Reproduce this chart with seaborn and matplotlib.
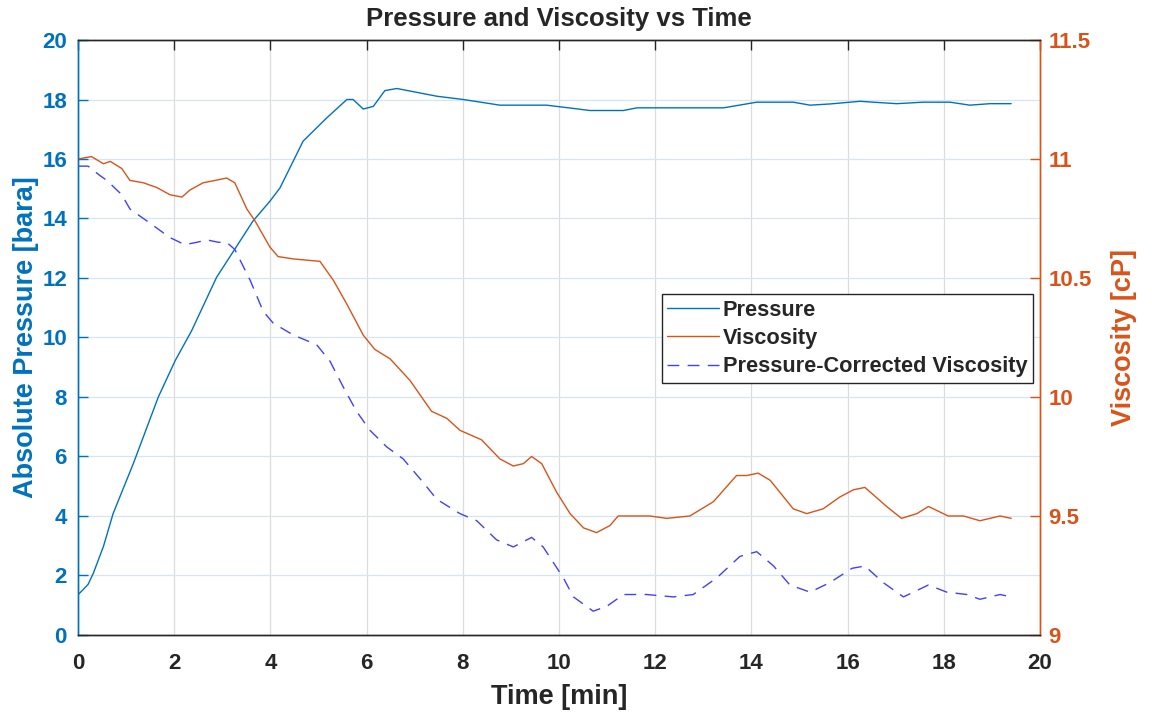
import numpy as np
import pandas as pd
import matplotlib
matplotlib.use("Agg")
import matplotlib.pyplot as plt
from matplotlib.ticker import FuncFormatter
import seaborn as sns

# ---- data ----
p_time = [0.00, 0.21, 0.32, 0.53, 0.73, 1.15, 1.67, 2.02, 2.36, 2.88, 3.64, 3.99, 4.20,
          4.68, 5.17, 5.59, 5.72, 5.93, 6.14, 6.38, 6.63, 7.46, 8.01, 8.77, 9.74, 10.30,
          10.64, 11.34, 11.62, 13.42, 14.11, 14.87, 15.22, 15.63, 16.26, 16.53, 17.02,
          17.57, 18.13, 18.54, 18.96, 19.40]
pressure = [1.35, 1.70, 2.08, 2.98, 4.08, 5.76, 8.00, 9.22, 10.22, 12.02, 13.92, 14.58, 15.03,
            16.60, 17.38, 18.00, 18.00, 17.68, 17.77, 18.30, 18.37, 18.11, 18.00, 17.81, 17.81,
            17.70, 17.63, 17.63, 17.72, 17.72, 17.91, 17.91, 17.81, 17.85, 17.94, 17.91, 17.86,
            17.91, 17.91, 17.81, 17.86, 17.86]

v_time = [0.00, 0.28, 0.53, 0.67, 0.91, 1.08, 1.36, 1.64, 1.91, 2.16, 2.33, 2.60, 2.85,
          3.09, 3.26, 3.51, 3.68, 3.99, 4.16, 4.48, 5.03, 5.31, 5.59, 5.93, 6.17, 6.49,
          6.90, 7.35, 7.67, 7.94, 8.39, 8.77, 9.05, 9.26, 9.43, 9.64, 9.95, 10.23, 10.51,
          10.78, 11.06, 11.23, 11.48, 11.89, 12.24, 12.72, 13.21, 13.69, 13.90, 14.14,
          14.39, 14.87, 15.15, 15.49, 15.84, 16.12, 16.36, 16.81, 17.12, 17.44, 17.68,
          18.09, 18.41, 18.75, 19.17, 19.40]
viscosity = [11.00, 11.01, 10.98, 10.99, 10.96, 10.91, 10.90, 10.88, 10.85, 10.84, 10.87,
             10.90, 10.91, 10.92, 10.90, 10.79, 10.74, 10.63, 10.59, 10.58, 10.57, 10.49,
             10.39, 10.26, 10.20, 10.16, 10.07, 9.94, 9.91, 9.86, 9.82, 9.74, 9.71, 9.72,
             9.75, 9.72, 9.60, 9.51, 9.45, 9.43, 9.46, 9.50, 9.50, 9.50, 9.49, 9.50, 9.56,
             9.67, 9.67, 9.68, 9.65, 9.53, 9.51, 9.53, 9.58, 9.61, 9.62, 9.54, 9.49, 9.51,
             9.54, 9.50, 9.50, 9.48, 9.50, 9.49]

c_time = [0.00, 0.21, 0.46, 0.60, 0.91, 1.08, 1.50, 1.91, 2.22, 2.47, 2.68, 2.92, 3.09,
          3.26, 3.58, 3.85, 4.06, 4.48, 4.96, 5.24, 5.52, 5.79, 6.07, 6.42, 6.76, 7.18,
          7.46, 7.94, 8.29, 8.70, 9.05, 9.43, 9.67, 10.09, 10.30, 10.71, 10.99, 11.34,
          11.82, 12.38, 12.79, 13.28, 13.76, 14.11, 14.46, 14.80, 15.22, 15.63, 16.09,
          16.36, 16.74, 17.16, 17.68, 18.06, 18.48, 18.75, 19.17, 19.40]
corrected = [10.97, 10.97, 10.93, 10.91, 10.85, 10.79, 10.73, 10.67, 10.64, 10.65, 10.66,
             10.65, 10.65, 10.62, 10.49, 10.36, 10.31, 10.26, 10.22, 10.15, 10.04, 9.94,
             9.86, 9.79, 9.74, 9.64, 9.57, 9.51, 9.48, 9.40, 9.37, 9.41, 9.37, 9.24, 9.16,
             9.10, 9.12, 9.17, 9.17, 9.16, 9.17, 9.24, 9.33, 9.35, 9.29, 9.21, 9.18, 9.22,
             9.28, 9.29, 9.22, 9.16, 9.21, 9.18, 9.17, 9.15, 9.17, 9.16]

x_ticks = [0, 2, 4, 6, 8, 10, 12, 14, 16, 18, 20]
left_ticks = [0, 2, 4, 6, 8, 10, 12, 14, 16, 18, 20]
right_ticks = [9, 9.5, 10, 10.5, 11, 11.5]

# ---- style ----
sns.set_style("white")
plt.rcParams["font.family"] = ["Liberation Sans", "DejaVu Sans"]
plt.rcParams["font.weight"] = "bold"

BLUE = "#0072BD"
ORANGE = "#D95319"
DASH = "#4040ff"
DARK = "#262626"

fig = plt.figure(figsize=(11.52, 7.17), dpi=100)
ax = fig.add_axes([0.0677, 0.1144, 0.8351, 0.8298])
ax2 = ax.twinx()

df_p = pd.DataFrame({"t": p_time, "v": pressure})
df_v = pd.DataFrame({"t": v_time, "v": viscosity})
df_c = pd.DataFrame({"t": c_time, "v": corrected})

sns.lineplot(data=df_p, x="t", y="v", ax=ax, color=BLUE, lw=1.0, label="Pressure", legend=False)
sns.lineplot(data=df_v, x="t", y="v", ax=ax2, color=ORANGE, lw=1.0, label="Viscosity", legend=False)
sns.lineplot(data=df_c, x="t", y="v", ax=ax2, color=DASH, lw=1.0, ls=(0, (8.5, 6)),
             label="Pressure-Corrected Viscosity", legend=False)

ax.set_xlim(0, 20)
ax.set_ylim(0, 20)
ax2.set_ylim(9, 11.5)
ax.set_xticks(x_ticks)
ax.set_yticks(left_ticks)
ax2.set_yticks(right_ticks)
ax2.yaxis.set_major_formatter(FuncFormatter(lambda v, p: f"{v:g}"))

# grid
ax.set_axisbelow(True)
for xt in x_ticks[1:-1]:
    ax.axvline(xt, color="#dcdcdc", lw=0.9, zorder=0)
for yt in left_ticks[1:-1]:
    ax.axhline(yt, color="#d4e6f5", lw=0.9, zorder=0)

# spines
for a in (ax, ax2):
    a.spines["top"].set_color(DARK)
    a.spines["bottom"].set_color(DARK)
    a.spines["left"].set_color(BLUE)
    a.spines["right"].set_color(ORANGE)
    for s in a.spines.values():
        s.set_linewidth(1.0)

ax.tick_params(axis="x", direction="in", length=7, width=1, colors=DARK,
               labelsize=16, pad=13, top=True)
ax.tick_params(axis="y", direction="in", length=7, width=1, colors=BLUE, labelsize=16, pad=8)
ax2.tick_params(axis="y", direction="in", length=7, width=1, colors=ORANGE, labelsize=16, pad=6)
for lab in ax.get_xticklabels() + ax.get_yticklabels() + ax2.get_yticklabels():
    lab.set_fontweight("bold")

ax.set_xlabel("Time [min]", fontsize=19.5, fontweight="bold", color=DARK, labelpad=7)
ax.set_ylabel("Absolute Pressure [bara]", fontsize=19.5, fontweight="bold", color=BLUE, labelpad=2)
ax2.set_ylabel("Viscosity [cP]", fontsize=19.5, fontweight="bold", color=ORANGE, labelpad=14)
ax.set_title("Pressure and Viscosity vs Time", fontsize=18.5, fontweight="bold", pad=10)

h1, l1 = ax.get_legend_handles_labels()
h2, l2 = ax2.get_legend_handles_labels()
leg = ax2.legend(h1 + h2, l1 + l2, loc="upper right", bbox_to_anchor=(0.9925, 0.573),
                 fancybox=False, framealpha=1, edgecolor=DARK,
                 prop={"weight": "bold", "size": 15.7}, handlelength=2.4,
                 borderpad=0.25, labelspacing=0.34, handletextpad=0.15, borderaxespad=0)
leg.get_frame().set_linewidth(1.0)

fig.savefig("out.png", dpi=100)
